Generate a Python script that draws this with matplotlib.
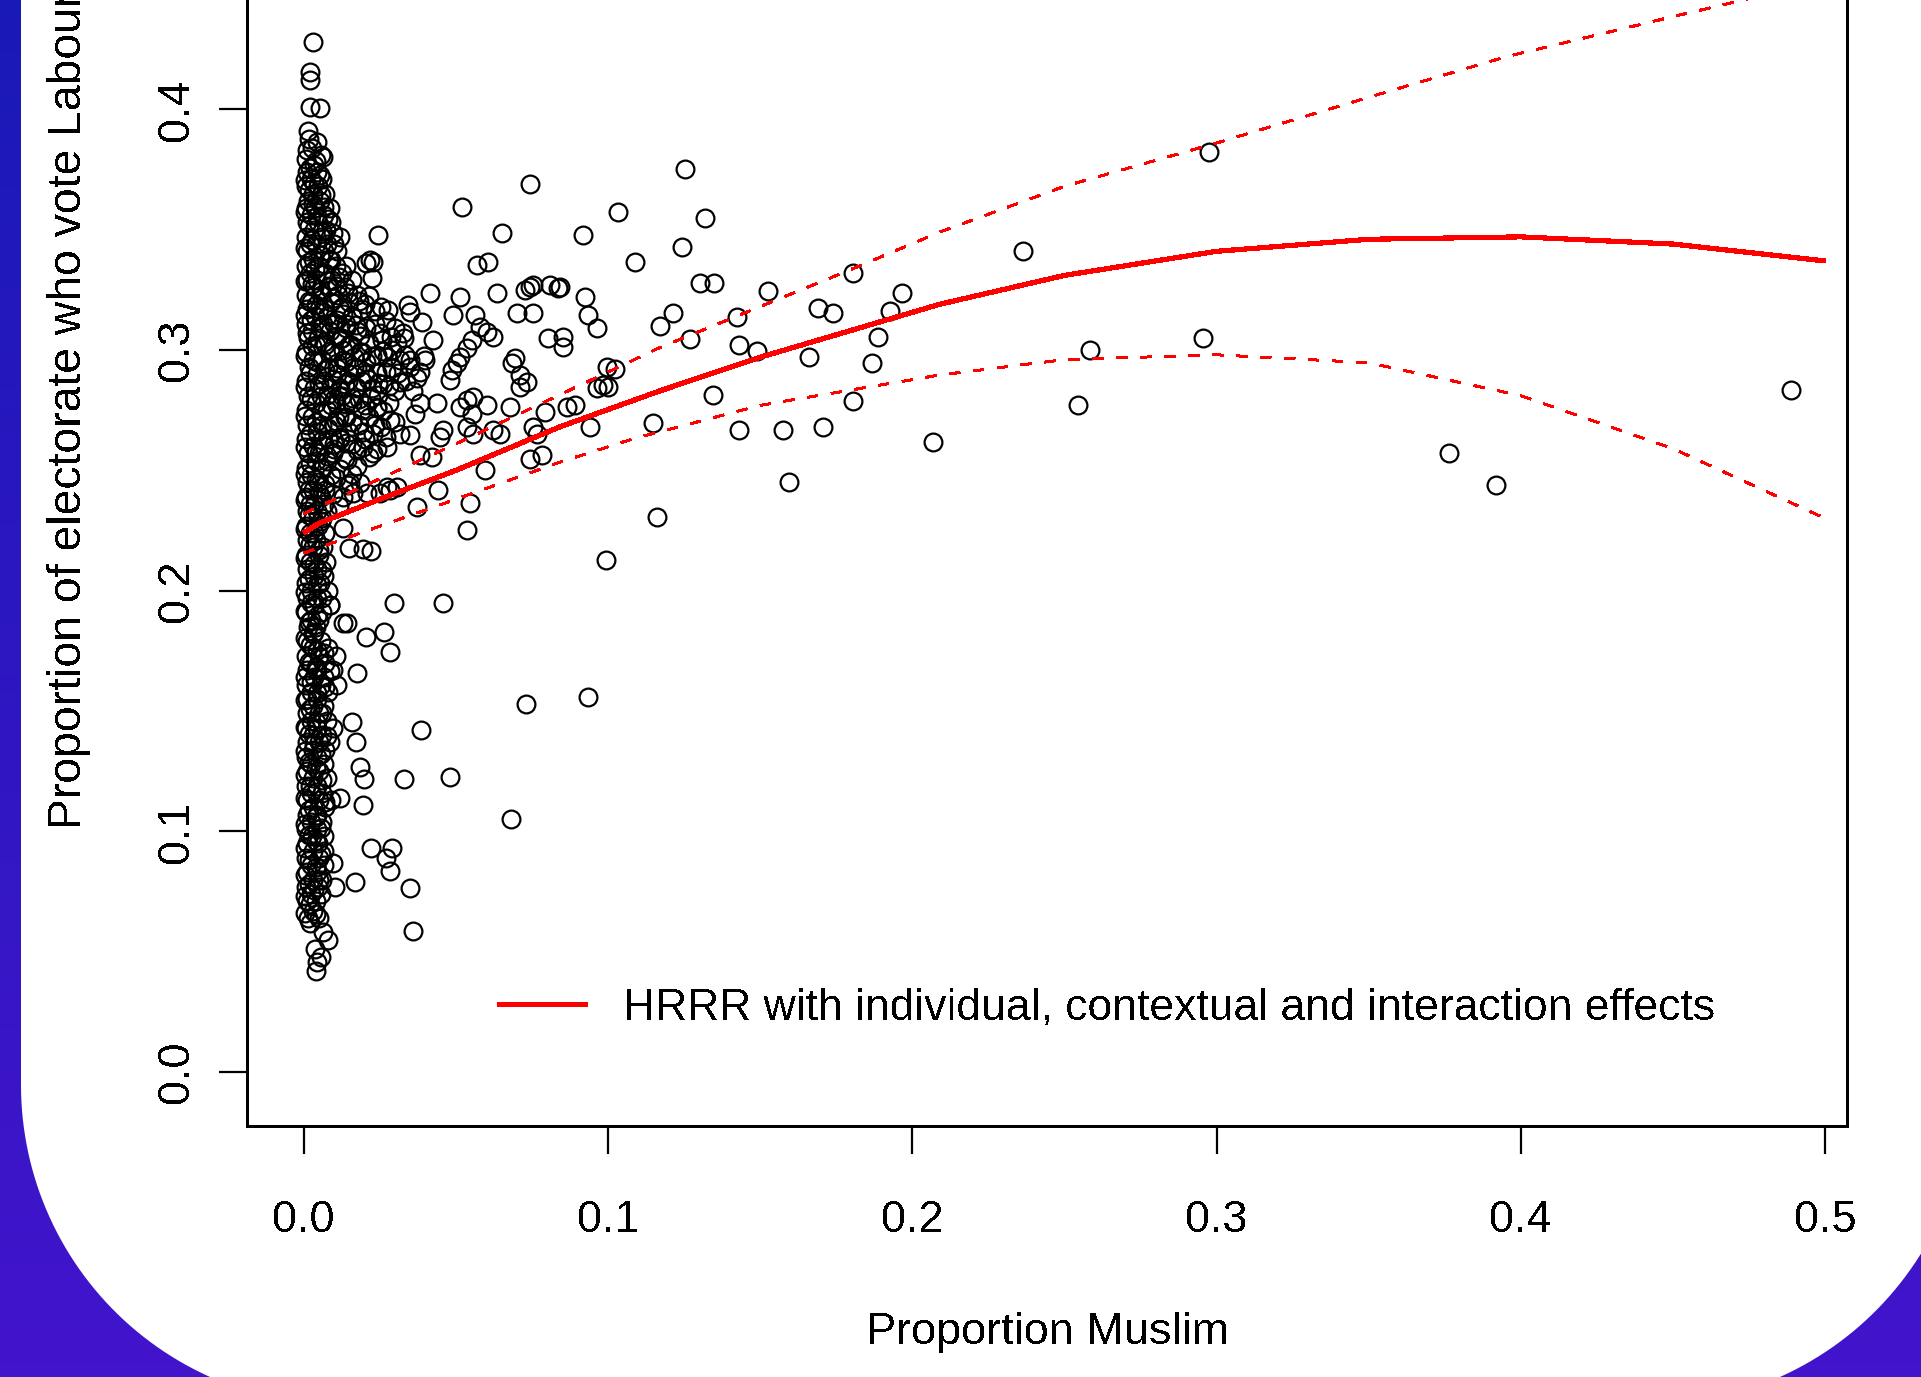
import matplotlib
matplotlib.use("Agg")
import matplotlib.pyplot as plt
import matplotlib.transforms as mtransforms
from matplotlib.patches import Polygon
from matplotlib.lines import Line2D
import numpy as np

plt.rcParams['font.family'] = ['Liberation Sans', 'DejaVu Sans']
plt.rcParams['lines.antialiased'] = False
plt.rcParams['text.antialiased'] = False

# ---------------- data ----------------
x_label = "Proportion Muslim"
y_label = "Proportion of electorate who vote Labour"
legend_label = "HRRR with individual, contextual and interaction effects"
x_ticks = [0.0, 0.1, 0.2, 0.3, 0.4, 0.5]
x_tick_labels = ["0.0", "0.1", "0.2", "0.3", "0.4", "0.5"]
y_ticks = [0.0, 0.1, 0.2, 0.3, 0.4]
y_tick_labels = ["0.0", "0.1", "0.2", "0.3", "0.4"]

# dense column of constituencies with almost no Muslims
column_points = [
    (0.0030, 0.428), (0.0022, 0.4155), (0.0020, 0.4120), (0.0020, 0.4010), (0.0053, 0.4005),
    (0.0015, 0.391), (0.0028, 0.384), (0.0055, 0.381), (0.0012, 0.383), (0.0063, 0.380), (0.0035, 0.377),
    (0.0010, 0.374), (0.0042, 0.374), (0.0025, 0.371), (0.0060, 0.371), (0.0008, 0.368), (0.0047, 0.368),
    (0.0030, 0.365), (0.0071, 0.365), (0.0015, 0.362), (0.0052, 0.362), (0.0006, 0.359), (0.0038, 0.359),
    (0.0086, 0.359), (0.0024, 0.356), (0.0065, 0.356), (0.0010, 0.353), (0.0048, 0.353), (0.0090, 0.353),
    (0.0032, 0.350), (0.0072, 0.350), (0.0008, 0.347), (0.0055, 0.347), (0.0120, 0.347), (0.0020, 0.344),
    (0.0040, 0.344), (0.0098, 0.344), (0.0012, 0.341), (0.0066, 0.341), (0.0110, 0.341), (0.0030, 0.338),
    (0.0082, 0.338), (0.0006, 0.335), (0.0050, 0.335), (0.0105, 0.335), (0.0140, 0.335), (0.0022, 0.332),
    (0.0070, 0.332), (0.0125, 0.332), (0.0010, 0.329), (0.0045, 0.329), (0.0092, 0.329), (0.0160, 0.329),
    (0.0035, 0.326), (0.0078, 0.326), (0.0135, 0.326), (0.0008, 0.323), (0.0058, 0.323), (0.0112, 0.323),
    (0.0175, 0.323), (0.0025, 0.320), (0.0088, 0.320), (0.0150, 0.320), (0.0012, 0.317), (0.0050, 0.317),
    (0.0120, 0.317), (0.0190, 0.317), (0.0036, 0.314), (0.0075, 0.314), (0.0160, 0.314), (0.0006, 0.311),
    (0.0062, 0.311), (0.0100, 0.311), (0.0140, 0.311), (0.0028, 0.308), (0.0085, 0.308), (0.0175, 0.308),
    (0.0014, 0.305), (0.0048, 0.305), (0.0125, 0.305), (0.0040, 0.302), (0.0070, 0.302), (0.0150, 0.302),
    (0.0008, 0.299), (0.0095, 0.299), (0.0185, 0.299), (0.0030, 0.296), (0.0060, 0.296), (0.0130, 0.296),
    (0.0016, 0.293), (0.0080, 0.293), (0.0165, 0.293), (0.0045, 0.290), (0.0110, 0.290), (0.0200, 0.290),
    (0.0006, 0.287), (0.0068, 0.287), (0.0145, 0.287), (0.0032, 0.284), (0.0090, 0.284), (0.0175, 0.284),
    (0.0014, 0.281), (0.0055, 0.281), (0.0125, 0.281), (0.0040, 0.278), (0.0105, 0.278), (0.0160, 0.278),
    (0.0008, 0.275), (0.0075, 0.275), (0.0190, 0.275), (0.0028, 0.272), (0.0135, 0.272), (0.0012, 0.269),
    (0.0060, 0.269), (0.0100, 0.269), (0.0045, 0.266), (0.0150, 0.266), (0.0006, 0.263), (0.0080, 0.263),
    (0.0120, 0.263), (0.0030, 0.260), (0.0065, 0.260), (0.0015, 0.257), (0.0050, 0.257), (0.0095, 0.257),
    (0.0040, 0.254), (0.0075, 0.254), (0.0008, 0.251), (0.0058, 0.251), (0.0025, 0.248), (0.0088, 0.248),
    (0.0012, 0.245), (0.0046, 0.245), (0.0030, 0.242), (0.0070, 0.242), (0.0008, 0.239), (0.0055, 0.239),
    (0.0022, 0.236), (0.0065, 0.236), (0.0010, 0.233), (0.0045, 0.233), (0.0030, 0.230), (0.0060, 0.230),
    (0.0006, 0.227), (0.0048, 0.227), (0.0020, 0.224), (0.0070, 0.224), (0.0012, 0.221), (0.0040, 0.221),
    (0.0030, 0.218), (0.0062, 0.218), (0.0008, 0.215), (0.0050, 0.215), (0.0022, 0.212), (0.0072, 0.212),
    (0.0010, 0.209), (0.0045, 0.209), (0.0032, 0.206), (0.0065, 0.206), (0.0006, 0.203), (0.0052, 0.203),
    (0.0024, 0.200), (0.0078, 0.200), (0.0012, 0.197), (0.0045, 0.197), (0.0035, 0.194), (0.0086, 0.194),
    (0.0008, 0.191), (0.0060, 0.191), (0.0025, 0.188), (0.0050, 0.188), (0.0015, 0.185), (0.0040, 0.185),
    (0.0030, 0.182), (0.0010, 0.179), (0.0055, 0.179), (0.0030, 0.176), (0.0080, 0.176), (0.0008, 0.173),
    (0.0050, 0.173), (0.0105, 0.173), (0.0025, 0.170), (0.0070, 0.170), (0.0012, 0.167), (0.0045, 0.167),
    (0.0095, 0.167), (0.0035, 0.164), (0.0065, 0.164), (0.0008, 0.161), (0.0055, 0.161), (0.0110, 0.161),
    (0.0025, 0.158), (0.0080, 0.158), (0.0012, 0.155), (0.0045, 0.155), (0.0030, 0.152), (0.0065, 0.152),
    (0.0010, 0.149), (0.0050, 0.149), (0.0025, 0.146), (0.0075, 0.146), (0.0008, 0.143), (0.0045, 0.143),
    (0.0095, 0.143), (0.0030, 0.140), (0.0060, 0.140), (0.0012, 0.137), (0.0050, 0.137), (0.0085, 0.137),
    (0.0030, 0.134), (0.0070, 0.134), (0.0008, 0.131), (0.0045, 0.131), (0.0025, 0.128), (0.0065, 0.128),
    (0.0012, 0.125), (0.0050, 0.125), (0.0030, 0.122), (0.0075, 0.122), (0.0008, 0.119), (0.0045, 0.119),
    (0.0025, 0.116), (0.0060, 0.116), (0.0012, 0.113), (0.0050, 0.113), (0.0090, 0.113), (0.0030, 0.110),
    (0.0070, 0.110), (0.0010, 0.107), (0.0045, 0.107), (0.0025, 0.104), (0.0060, 0.104), (0.0008, 0.101),
    (0.0042, 0.101), (0.0028, 0.098), (0.0065, 0.098), (0.0012, 0.095), (0.0048, 0.095), (0.0030, 0.092),
    (0.0068, 0.092), (0.0008, 0.089), (0.0050, 0.089), (0.0025, 0.086), (0.0065, 0.086), (0.0012, 0.083),
    (0.0045, 0.083), (0.0030, 0.080), (0.0060, 0.080), (0.0008, 0.077), (0.0048, 0.077), (0.0025, 0.074),
    (0.0055, 0.074), (0.0012, 0.071), (0.0040, 0.071), (0.0030, 0.067), (0.0015, 0.064), (0.0050, 0.064),
    (0.0020, 0.062), (0.0063, 0.058), (0.0080, 0.055), (0.0037, 0.051), (0.0056, 0.048), (0.0043, 0.0457),
    (0.0040, 0.042),
]

# more points inside the column (it renders as an almost solid black band)
column_points_b = [
    (0.0018, 0.3875), (0.0045, 0.3865), (0.0008, 0.3795), (0.0040, 0.3785), (0.0020, 0.3755),
    (0.0052, 0.3728), (0.0004, 0.3705), (0.0035, 0.3695), (0.0018, 0.3665), (0.0056, 0.3645),
    (0.0030, 0.3605), (0.0066, 0.3595), (0.0004, 0.3575), (0.0045, 0.3555), (0.0078, 0.3545),
    (0.0016, 0.3515), (0.0060, 0.3495), (0.0095, 0.3485), (0.0028, 0.3455), (0.0075, 0.3440),
    (0.0004, 0.3425), (0.0052, 0.3395), (0.0088, 0.3375), (0.0016, 0.3365), (0.0038, 0.3335),
    (0.0065, 0.3315), (0.0115, 0.3305), (0.0004, 0.3285), (0.0028, 0.3275), (0.0082, 0.3265),
    (0.0055, 0.3245), (0.0100, 0.3215), (0.0018, 0.3205), (0.0040, 0.3185), (0.0068, 0.3175),
    (0.0130, 0.3150), (0.0004, 0.3145), (0.0025, 0.3125), (0.0095, 0.3115), (0.0052, 0.3090),
    (0.0012, 0.3070), (0.0110, 0.3060), (0.0065, 0.3035), (0.0028, 0.3015), (0.0085, 0.2995),
    (0.0004, 0.2975), (0.0045, 0.2950), (0.0110, 0.2945), (0.0070, 0.2915), (0.0022, 0.2905),
    (0.0095, 0.2880), (0.0050, 0.2860), (0.0004, 0.2845), (0.0120, 0.2840), (0.0075, 0.2815),
    (0.0025, 0.2795), (0.0088, 0.2770), (0.0055, 0.2745), (0.0004, 0.2725), (0.0115, 0.2720),
    (0.0040, 0.2700), (0.0080, 0.2675), (0.0022, 0.2650), (0.0060, 0.2625), (0.0100, 0.2610),
    (0.0004, 0.2595), (0.0040, 0.2575), (0.0075, 0.2560), (0.0022, 0.2530), (0.0060, 0.2505),
    (0.0004, 0.2485), (0.0040, 0.2465), (0.0070, 0.2445), (0.0018, 0.2420), (0.0050, 0.2405),
    (0.0004, 0.2375), (0.0035, 0.2355), (0.0075, 0.2330), (0.0018, 0.2315), (0.0055, 0.2290),
    (0.0004, 0.2255), (0.0035, 0.2240), (0.0020, 0.2195), (0.0050, 0.2170), (0.0004, 0.2135),
    (0.0035, 0.2110), (0.0060, 0.2085), (0.0018, 0.2050), (0.0045, 0.2025), (0.0004, 0.1995),
    (0.0060, 0.1970), (0.0025, 0.1950), (0.0004, 0.1915), (0.0045, 0.1895), (0.0018, 0.1870),
    (0.0035, 0.1830), (0.0004, 0.1805), (0.0020, 0.1775), (0.0045, 0.1755), (0.0065, 0.1740),
    (0.0018, 0.1705), (0.0040, 0.1685), (0.0085, 0.1665), (0.0004, 0.1640), (0.0025, 0.1620),
    (0.0070, 0.1600), (0.0045, 0.1575), (0.0004, 0.1545), (0.0020, 0.1510), (0.0060, 0.1490),
    (0.0040, 0.1455), (0.0004, 0.1435), (0.0018, 0.1405), (0.0075, 0.1395), (0.0035, 0.1365),
    (0.0004, 0.1335), (0.0055, 0.1320), (0.0018, 0.1290), (0.0040, 0.1265), (0.0004, 0.1235),
    (0.0060, 0.1215), (0.0020, 0.1190), (0.0040, 0.1165), (0.0004, 0.1140), (0.0070, 0.1120),
    (0.0018, 0.1090), (0.0040, 0.1060), (0.0004, 0.1030), (0.0055, 0.1015), (0.0018, 0.0985),
    (0.0040, 0.0960), (0.0004, 0.0930), (0.0055, 0.0905), (0.0018, 0.0880), (0.0040, 0.0850),
    (0.0004, 0.0820), (0.0050, 0.0800), (0.0018, 0.0780), (0.0035, 0.0755), (0.0004, 0.0730),
    (0.0020, 0.0700), (0.0004, 0.0660), (0.0040, 0.0655),
]

# spread of points just to the right of the column
cloud_points = [
    (0.0125, 0.318), (0.0160, 0.314), (0.0200, 0.319), (0.0235, 0.316), (0.0270, 0.312), (0.0300, 0.309),
    (0.0140, 0.309), (0.0185, 0.306), (0.0215, 0.303), (0.0250, 0.307), (0.0330, 0.305), (0.0290, 0.300),
    (0.0130, 0.300), (0.0165, 0.297), (0.0205, 0.295), (0.0240, 0.298), (0.0315, 0.296), (0.0350, 0.293),
    (0.0270, 0.291), (0.0150, 0.290), (0.0190, 0.287), (0.0225, 0.284), (0.0260, 0.286), (0.0300, 0.283),
    (0.0335, 0.287), (0.0120, 0.283), (0.0160, 0.280), (0.0200, 0.277), (0.0240, 0.276), (0.0280, 0.278),
    (0.0140, 0.272), (0.0180, 0.269), (0.0215, 0.272), (0.0255, 0.268), (0.0300, 0.270), (0.0120, 0.264),
    (0.0160, 0.261), (0.0200, 0.263), (0.0240, 0.259), (0.0135, 0.255), (0.0175, 0.252), (0.0105, 0.247),
    (0.0145, 0.244), (0.0316, 0.2868), (0.0310, 0.2903), (0.0371, 0.2882), (0.0333, 0.2979),
    (0.0398, 0.2958), (0.0327, 0.3069), (0.0305, 0.3027), (0.0272, 0.2972), (0.0256, 0.3041),
    (0.0245, 0.2861), (0.0240, 0.2764), (0.0283, 0.2709), (0.0316, 0.2653), (0.0228, 0.2653),
    (0.0196, 0.2598), (0.0228, 0.2570), (0.0272, 0.2598), (0.0141, 0.2543), (0.0395, 0.2977),
    (0.0382, 0.2910), (0.0350, 0.2960), (0.0360, 0.2830), (0.0149, 0.2178), (0.0193, 0.2173),
    (0.0221, 0.2163), (0.0130, 0.2260), (0.0115, 0.2350), (0.0282, 0.2417),
    (0.0217, 0.3374), (0.0205, 0.3360), (0.0228, 0.3365), (0.0223, 0.3297), (0.0245, 0.3477),
    (0.0343, 0.3187), (0.0349, 0.3159), (0.0278, 0.3166), (0.0387, 0.3117), (0.0426, 0.3041),
    (0.0415, 0.3235), (0.0437, 0.2778), (0.0382, 0.2778), (0.0365, 0.2736), (0.0349, 0.2646),
    (0.0420, 0.2556), (0.0382, 0.2563), (0.0371, 0.2348), (0.0305, 0.2432), (0.0272, 0.2432),
    (0.0250, 0.2404), (0.0185, 0.2446), (0.0152, 0.2446), (0.0163, 0.2404), (0.0207, 0.2404),
]

cloud_points_b = [
    (0.0110, 0.3265), (0.0145, 0.3235), (0.0180, 0.3205), (0.0215, 0.3225), (0.0255, 0.3180),
    (0.0110, 0.3125), (0.0170, 0.3105), (0.0205, 0.3090), (0.0235, 0.3110), (0.0285, 0.3055),
    (0.0120, 0.3045), (0.0155, 0.3020), (0.0190, 0.2990), (0.0225, 0.2975), (0.0260, 0.2995),
    (0.0110, 0.2925), (0.0140, 0.2950), (0.0175, 0.2925), (0.0240, 0.2905), (0.0290, 0.2925),
    (0.0135, 0.2860), (0.0170, 0.2845), (0.0210, 0.2880), (0.0245, 0.2815), (0.0280, 0.2850),
    (0.0100, 0.2795), (0.0140, 0.2775), (0.0180, 0.2795), (0.0220, 0.2800), (0.0260, 0.2745),
    (0.0105, 0.2705), (0.0160, 0.2700), (0.0195, 0.2660), (0.0235, 0.2690), (0.0270, 0.2640),
    (0.0100, 0.2590), (0.0140, 0.2615), (0.0175, 0.2585), (0.0215, 0.2555), (0.0120, 0.2505),
    (0.0160, 0.2485), (0.0095, 0.2400), (0.0130, 0.2390),
]

# low values near the column
low_points = [
    (0.0298, 0.195), (0.0290, 0.093), (0.0282, 0.0835), (0.0270, 0.089), (0.0282, 0.1746),
    (0.0262, 0.1827), (0.0221, 0.093), (0.0205, 0.1806), (0.0169, 0.0789), (0.0193, 0.111),
    (0.0197, 0.1216), (0.0173, 0.137), (0.0142, 0.1865), (0.0175, 0.166), (0.0186, 0.1267),
    (0.0160, 0.1454), (0.0120, 0.114), (0.0097, 0.0868), (0.0103, 0.077), (0.0130, 0.1865),
    (0.0086, 0.194), (0.0358, 0.0585), (0.0350, 0.0763), (0.0330, 0.1216), (0.0386, 0.142),
    (0.0479, 0.1226), (0.0459, 0.195), (0.0680, 0.105), (0.0729, 0.153), (0.0934, 0.156),
    (0.0994, 0.2127),
]

# constituencies with larger Muslim populations
outer_points = [
    (0.0519, 0.3595), (0.1034, 0.3574), (0.0650, 0.3487), (0.0919, 0.3477), (0.1088, 0.3366),
    (0.0745, 0.3690), (0.0568, 0.3353), (0.0606, 0.3366), (0.0743, 0.3263), (0.0727, 0.3249),
    (0.0753, 0.3270), (0.0809, 0.3270), (0.0836, 0.3256), (0.0513, 0.3221), (0.0634, 0.3235),
    (0.0491, 0.3145), (0.0563, 0.3145), (0.0700, 0.3152), (0.0754, 0.3152), (0.0924, 0.3221),
    (0.0935, 0.3145), (0.0963, 0.3090), (0.1170, 0.3100), (0.0579, 0.3097), (0.0601, 0.3076),
    (0.0623, 0.3055), (0.0804, 0.3048), (0.0853, 0.3055), (0.0853, 0.3013), (0.0552, 0.3041),
    (0.0535, 0.3007), (0.0513, 0.2972), (0.0694, 0.2965), (0.0683, 0.2944), (0.0502, 0.2944),
    (0.0486, 0.2916), (0.0480, 0.2875), (0.0710, 0.2896), (0.0733, 0.2868), (0.0710, 0.2847),
    (0.0995, 0.2930), (0.1023, 0.2923), (0.0984, 0.2854), (0.1001, 0.2847), (0.0963, 0.2840),
    (0.1149, 0.2695), (0.0940, 0.2681), (0.0793, 0.2743), (0.0864, 0.2764), (0.0891, 0.2771),
    (0.0678, 0.2764), (0.0601, 0.2771), (0.0513, 0.2764), (0.0535, 0.2792), (0.0557, 0.2806),
    (0.0552, 0.2736), (0.0458, 0.2667), (0.0448, 0.2639), (0.0535, 0.2681), (0.0557, 0.2653),
    (0.0623, 0.2667), (0.0645, 0.2653), (0.0754, 0.2681), (0.0765, 0.2653), (0.0743, 0.2549),
    (0.0782, 0.2563), (0.0595, 0.2501), (0.0442, 0.2418), (0.0546, 0.2363), (0.0535, 0.2252),
    (0.1160, 0.2307), (0.0842, 0.3263),
    (0.1253, 0.3750), (0.1318, 0.3547), (0.1242, 0.3426), (0.1302, 0.3280), (0.1348, 0.3280),
    (0.1527, 0.3246), (0.1804, 0.3321), (0.1965, 0.3235), (0.1214, 0.3152), (0.1423, 0.3138),
    (0.1691, 0.3173), (0.1738, 0.3152), (0.1926, 0.3163), (0.1269, 0.3044), (0.1431, 0.3020),
    (0.1488, 0.2997), (0.1888, 0.3055), (0.1661, 0.2969), (0.1869, 0.2947), (0.1346, 0.2813),
    (0.1431, 0.2667), (0.1574, 0.2667), (0.1707, 0.2681), (0.1804, 0.2789), (0.2069, 0.2619),
    (0.1596, 0.2452),
    (0.2975, 0.3822), (0.2363, 0.3410), (0.2585, 0.3000), (0.2544, 0.2770), (0.2955, 0.3050),
    (0.3764, 0.2570), (0.3917, 0.2438), (0.4887, 0.2835),
]

# fitted curve and confidence band
fit_x = [0.0, 0.005, 0.025, 0.05, 0.084, 0.117, 0.15, 0.209, 0.25, 0.30, 0.35, 0.40, 0.45, 0.50]
fit_y = [0.224, 0.228, 0.238, 0.250, 0.268, 0.283, 0.297, 0.319, 0.331, 0.341, 0.346, 0.347, 0.344, 0.337]
upper_x = [0.0, 0.05, 0.084, 0.117, 0.179, 0.209, 0.25, 0.30, 0.35, 0.395, 0.45, 0.50]
upper_y = [0.232, 0.261, 0.2813, 0.301, 0.333, 0.349, 0.368, 0.386, 0.405, 0.4218, 0.4385, 0.4535]
lower_x = [0.0, 0.05, 0.0842, 0.108, 0.15, 0.209, 0.25, 0.30, 0.35, 0.40, 0.45, 0.50]
lower_y = [0.2156, 0.238, 0.2534, 0.263, 0.277, 0.2896, 0.296, 0.298, 0.2947, 0.281, 0.259, 0.230]

# ---------------- figure ----------------
W, H = 1921, 1377
DPI = 100
fig = plt.figure(figsize=(W / DPI, H / DPI), dpi=DPI)

# background: blue/purple gradient and white rounded panel (circular corners)
bg = fig.add_axes([0, 0, 1, 1], zorder=-5)
bg.set_xlim(0, W)
bg.set_ylim(H, 0)
bg.axis('off')
top_c = np.array([0.10, 0.10, 0.72])
bot_c = np.array([0.26, 0.08, 0.80])
t = np.linspace(0, 1, 256)[:, None, None]
grad = top_c[None, None, :] * (1 - t) + bot_c[None, None, :] * t
grad = np.repeat(grad, 2, axis=1)
bg.imshow(grad, extent=[0, W, H, 0], aspect='auto', interpolation='bilinear')
pl, pr, pb, rad = 21.0, 1969.0, 1405.0, 320.0
ang_l = np.linspace(np.pi, np.pi / 2, 60)
ang_r = np.linspace(np.pi / 2, 0, 60)
corner_l = np.column_stack([pl + rad + rad * np.cos(ang_l), pb - rad + rad * np.sin(ang_l)])
corner_r = np.column_stack([pr - rad + rad * np.cos(ang_r), pb - rad + rad * np.sin(ang_r)])
panel_xy = np.vstack([[[pl, -600.0]], corner_l, corner_r, [[pr, -600.0]]])
bg.add_patch(Polygon(panel_xy, closed=True, facecolor='white', edgecolor='none', antialiased=True))

# main axes (pixel-measured placement; top edge lies above the figure)
FS = 32.5
FS_LEG = 32.0
FS_YLAB = 33.3
ax_left, ax_right, ax_bottom_px = 247.5, 1847.4, 1126.0
xlim = (-0.0185, 0.5073)
ylim = (-0.0224, 0.572)
ypx_per_unit = 2407.0
ax_h_px = (ylim[1] - ylim[0]) * ypx_per_unit
ax = fig.add_axes([ax_left / W, (H - ax_bottom_px) / H,
                   (ax_right - ax_left) / W, ax_h_px / H])
ax.set_facecolor('none')
ax.set_xlim(*xlim)
ax.set_ylim(*ylim)

marker_kw = dict(linestyle='none', marker='o', markersize=12.8, markerfacecolor='none',
                 markeredgecolor='black', markeredgewidth=1.6, antialiased=False)
for pts in (column_points, column_points_b, cloud_points, cloud_points_b, low_points, outer_points):
    px, py = zip(*pts)
    ax.plot(px, py, **marker_kw)

ax.plot(fit_x, fit_y, color='#ff0000', lw=3.0, solid_capstyle='butt', antialiased=False)
ax.plot(upper_x, upper_y, color='#ff0000', lw=1.45, linestyle=(0, (5, 6.5)), antialiased=False)
ax.plot(lower_x, lower_y, color='#ff0000', lw=1.45, linestyle=(0, (5, 6.5)), antialiased=False)

for s in ax.spines.values():
    s.set_linewidth(1.8)
    s.set_color('black')
    s.set_antialiased(False)

ax.set_xticks(x_ticks)
ax.set_xticklabels(x_tick_labels)
ax.set_yticks(y_ticks)
ax.set_yticklabels(y_tick_labels)
ax.tick_params(axis='both', length=20, width=1.6, color='black', labelsize=FS, direction='out')
ax.tick_params(axis='x', pad=33)
ax.tick_params(axis='y', pad=22.7)
for lbl in ax.get_yticklabels():
    lbl.set_rotation(90)
    lbl.set_rotation_mode('anchor')
    lbl.set_ha('center')
    lbl.set_va('baseline')

ax.set_xlabel(x_label, fontsize=FS)
ax.xaxis.label.set_va('baseline')
ax.xaxis.set_label_coords(0.5, (H - 1344) / H,
                          transform=mtransforms.blended_transform_factory(ax.transAxes, fig.transFigure))
ax.set_ylabel(y_label, fontsize=FS_YLAB)
ax.yaxis.label.set_va('baseline')
ax.yaxis.set_label_coords(81 / W, 0.5,
                          transform=mtransforms.blended_transform_factory(fig.transFigure, ax.transAxes))

handle = Line2D([], [], color='#ff0000', lw=2.4, antialiased=False)
ax.legend([handle], [legend_label], loc='center left',
          bbox_to_anchor=(498.6 / W, 1 - 1008 / H), bbox_transform=fig.transFigure,
          frameon=False, fontsize=FS_LEG, borderpad=0, borderaxespad=0,
          handlelength=1.94, handletextpad=0.85)

fig.savefig('out.png', dpi=DPI)
